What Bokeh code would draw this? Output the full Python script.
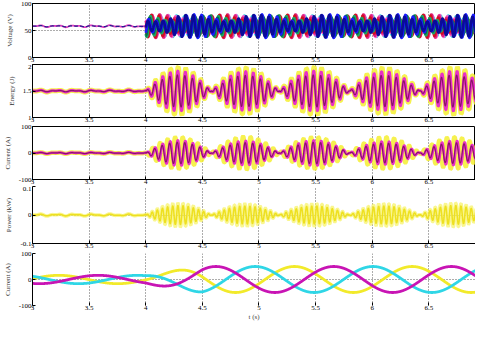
import numpy as np
from bokeh.plotting import figure
from bokeh.layouts import column
from bokeh.models import FixedTicker, Range1d, NumeralTickFormatter
from bokeh.embed import file_html
from bokeh.resources import INLINE

# ---------------- data ----------------
x_ticks = [3, 3.5, 4, 4.5, 5, 5.5, 6, 6.5, 7]
x_label = "t (s)"
t_start, t_event, t_stop = 3.0, 4.0, 7.0

y_labels = ["Voltage (V)", "Energy (J)", "Current (A)", "Power (kW)", "Current (A)"]
p1_ticks = [0, 50, 100]
p2_ticks = [1, 1.5, 2]
p3_ticks = [-100, 0, 100]
p4_ticks = [-0.1, 0, 0.1]
p5_ticks = [-100, 0, 100]

beat_nodes = [4.0, 4.58, 5.18, 5.80, 6.42, 7.02]
carrier_hz = 15.0

# panel 1: several voltage traces
p1_level = 58.0
p1_pre_wiggle = 2.0
p1_colors = ["#f2ea2a", "#2fd6e6", "#f060d0", "#e0207a", "#d01020", "#18a868", "#087048", "#1a1aff", "#0a0a9a"]
p1_amp = [19, 20, 21, 22, 21, 20, 20, 22, 21]
p1_phase = [0.2, 1.0, 1.8, 2.5, 3.1, 3.9, 4.6, 5.3, 6.0]

# panel 2: energy lobes (peak per lobe)
p2_level = 1.5
p2_yellow_peaks = [0.45, 0.44, 0.45, 0.44, 0.45]
p2_magenta_peaks = [0.38, 0.37, 0.38, 0.37, 0.38]
p2_pre_wiggle = 0.02

# panel 3: current lobes
p3_yellow_peaks = [60, 62, 60, 60, 60]
p3_magenta_peaks = [48, 46, 48, 44, 46]
p3_pre_wiggle = 3.0

# panel 4: power lobes
p4_yellow_peaks = [0.042, 0.040, 0.040, 0.040, 0.042]
p4_pre_wiggle = 0.004
p4_carrier_hz = 22.0

# panel 5: three phase currents
p5_period = 1.04
p5_magenta_peak_t = 5.66
p5_amp_before, p5_amp_after = 16.0, 50.0
p5_ramp_end = 4.5
p5_colors = ["#f2ea2a", "#2fd6e6", "#c814b4"]
p5_shift = [2.0 / 3.0, 1.0 / 3.0, 0.0]

# ---------------- signal construction ----------------
t = np.arange(t_start, t_stop + 0.0005, 0.0015)
after = t >= t_event


def envelope(peaks):
    env = np.zeros_like(t)
    for i, pk in enumerate(peaks):
        a, b = beat_nodes[i], beat_nodes[i + 1]
        m = (t >= a) & (t < b)
        env[m] = pk * np.sin(np.pi * (t[m] - a) / (b - a))
    return env


def wiggle(scale):
    w = 0.6 * np.sin(2 * np.pi * 6.3 * t) + 0.4 * np.sin(2 * np.pi * 11.7 * t + 1.3)
    return np.where(after, 0, scale * w)


x_end = 3 + 446 / 114.0
FONT = "Liberation Serif"


def make_fig(height, yr, yticks, ylabel, top, outline=True, xline=True, xlabel=None):
    p = figure(width=475, height=height, x_range=Range1d(t_start, x_end),
               y_range=Range1d(*yr), output_backend="svg", toolbar_location=None,
               min_border_left=29, min_border_right=0, min_border_top=top,
               min_border_bottom=0)
    p.background_fill_color = "white"
    p.outline_line_color = "black" if outline else None
    p.outline_line_width = 1
    for ax in (p.xaxis[0], p.yaxis[0]):
        ax.major_tick_in = 3
        ax.major_tick_out = 0
        ax.minor_tick_line_color = None
        ax.major_label_text_font = FONT
        ax.major_label_text_font_size = "7px"
        ax.major_label_text_color = "black"
        ax.axis_line_color = "black"
        ax.major_label_standoff = 1
        ax.formatter = NumeralTickFormatter(format="0.[0]")
    p.xaxis.major_label_standoff = 0
    p.xaxis.ticker = FixedTicker(ticks=x_ticks)
    p.yaxis.ticker = FixedTicker(ticks=yticks)
    if not xline:
        p.xaxis.axis_line_color = None
    p.yaxis.axis_label = ylabel
    p.yaxis.axis_label_text_font = FONT
    p.yaxis.axis_label_text_font_size = "7px"
    p.yaxis.axis_label_text_font_style = "normal"
    p.yaxis.axis_label_text_color = "#333333"
    p.yaxis.axis_label_standoff = 4
    if xlabel:
        p.xaxis.axis_label = xlabel
        p.xaxis.axis_label_text_font = FONT
        p.xaxis.axis_label_text_font_size = "7px"
        p.xaxis.axis_label_text_font_style = "normal"
        p.xaxis.axis_label_standoff = 0
    p.xgrid.ticker = FixedTicker(ticks=x_ticks)
    p.ygrid.ticker = FixedTicker(ticks=[yticks[1]])
    for g in (p.xgrid[0], p.ygrid[0]):
        g.grid_line_color = "#333333"
        g.grid_line_dash = "1 2"
        g.grid_line_alpha = 0.8
    return p


# panel 1
p1 = make_fig(64, (0, 100), p1_ticks, y_labels[0], 3)
p1.line(t[~after], (p1_level + wiggle(p1_pre_wiggle))[~after], color="#e040c0", line_width=1.8)
p1.line(t[~after], (p1_level + 0.6 * wiggle(p1_pre_wiggle))[~after], color="#202090", line_width=1.2, line_dash="4 2")
for c, a, ph in zip(p1_colors, p1_amp, p1_phase):
    env = a * (0.7 + 0.3 * np.sin(2 * np.pi * t / 0.6 + ph))
    y = p1_level + env * np.sin(2 * np.pi * carrier_hz * t + ph)
    p1.line(t[after], y[after], color=c, line_width=2.6)

# panel 2
p2 = make_fig(60, (1, 2), p2_ticks, y_labels[1], 0)
carrier = np.sin(2 * np.pi * carrier_hz * t)
y2y = p2_level + envelope(p2_yellow_peaks) * np.sin(2 * np.pi * carrier_hz * t - 0.3) + wiggle(p2_pre_wiggle)
y2m = p2_level + envelope(p2_magenta_peaks) * carrier + wiggle(p2_pre_wiggle)
y2d = p2_level + 0.8 * envelope(p2_magenta_peaks) * np.sin(2 * np.pi * carrier_hz * t + 0.4) + 0.7 * wiggle(p2_pre_wiggle)
p2.line(t, y2y, color="#f4ee30", line_width=5, alpha=0.85)
p2.line(t, y2m, color="#e830c8", line_width=2.8)
p2.line(t, y2d, color="#8a1468", line_width=1.2)

# panel 3
p3 = make_fig(62, (-100, 100), p3_ticks, y_labels[2], 2)
y3y = envelope(p3_yellow_peaks) * np.sin(2 * np.pi * carrier_hz * t + 2.2) + wiggle(p3_pre_wiggle)
y3m = envelope(p3_magenta_peaks) * carrier + wiggle(p3_pre_wiggle)
y3d = 0.85 * envelope(p3_magenta_peaks) * np.sin(2 * np.pi * carrier_hz * t + 0.5) + 0.7 * wiggle(p3_pre_wiggle)
p3.line(t, y3y, color="#f4ee30", line_width=4.5, alpha=0.85)
p3.line(t, y3m, color="#e830c8", line_width=2.6)
p3.line(t, y3d, color="#8a1468", line_width=1.2)

# panel 4
p4 = make_fig(64, (-0.1, 0.1), p4_ticks, y_labels[3], 0, outline=False)
y4 = envelope(p4_yellow_peaks) * np.sin(2 * np.pi * p4_carrier_hz * t) + wiggle(p4_pre_wiggle)
p4.line(t, y4, color="#f6f260", line_width=3.5, alpha=0.7)
p4.line(t, y4 * 0.8, color="#eee020", line_width=1.5)

# panel 5
p5 = make_fig(73, (-100, 100), p5_ticks, y_labels[4], 3, outline=False, xline=False, xlabel=x_label)
amp5 = np.where(t < t_event, p5_amp_before,
                np.where(t > p5_ramp_end, p5_amp_after,
                         p5_amp_before + (p5_amp_after - p5_amp_before) * (t - t_event) / (p5_ramp_end - t_event)))
for c, s in zip(p5_colors, p5_shift):
    peak = p5_magenta_peak_t + s * p5_period
    y5 = amp5 * np.cos(2 * np.pi * (t - peak) / p5_period)
    p5.line(t, y5, color=c, line_width=2.8)

layout = column(p1, p2, p3, p4, p5)
open("out.html", "w").write(file_html(layout, INLINE))
